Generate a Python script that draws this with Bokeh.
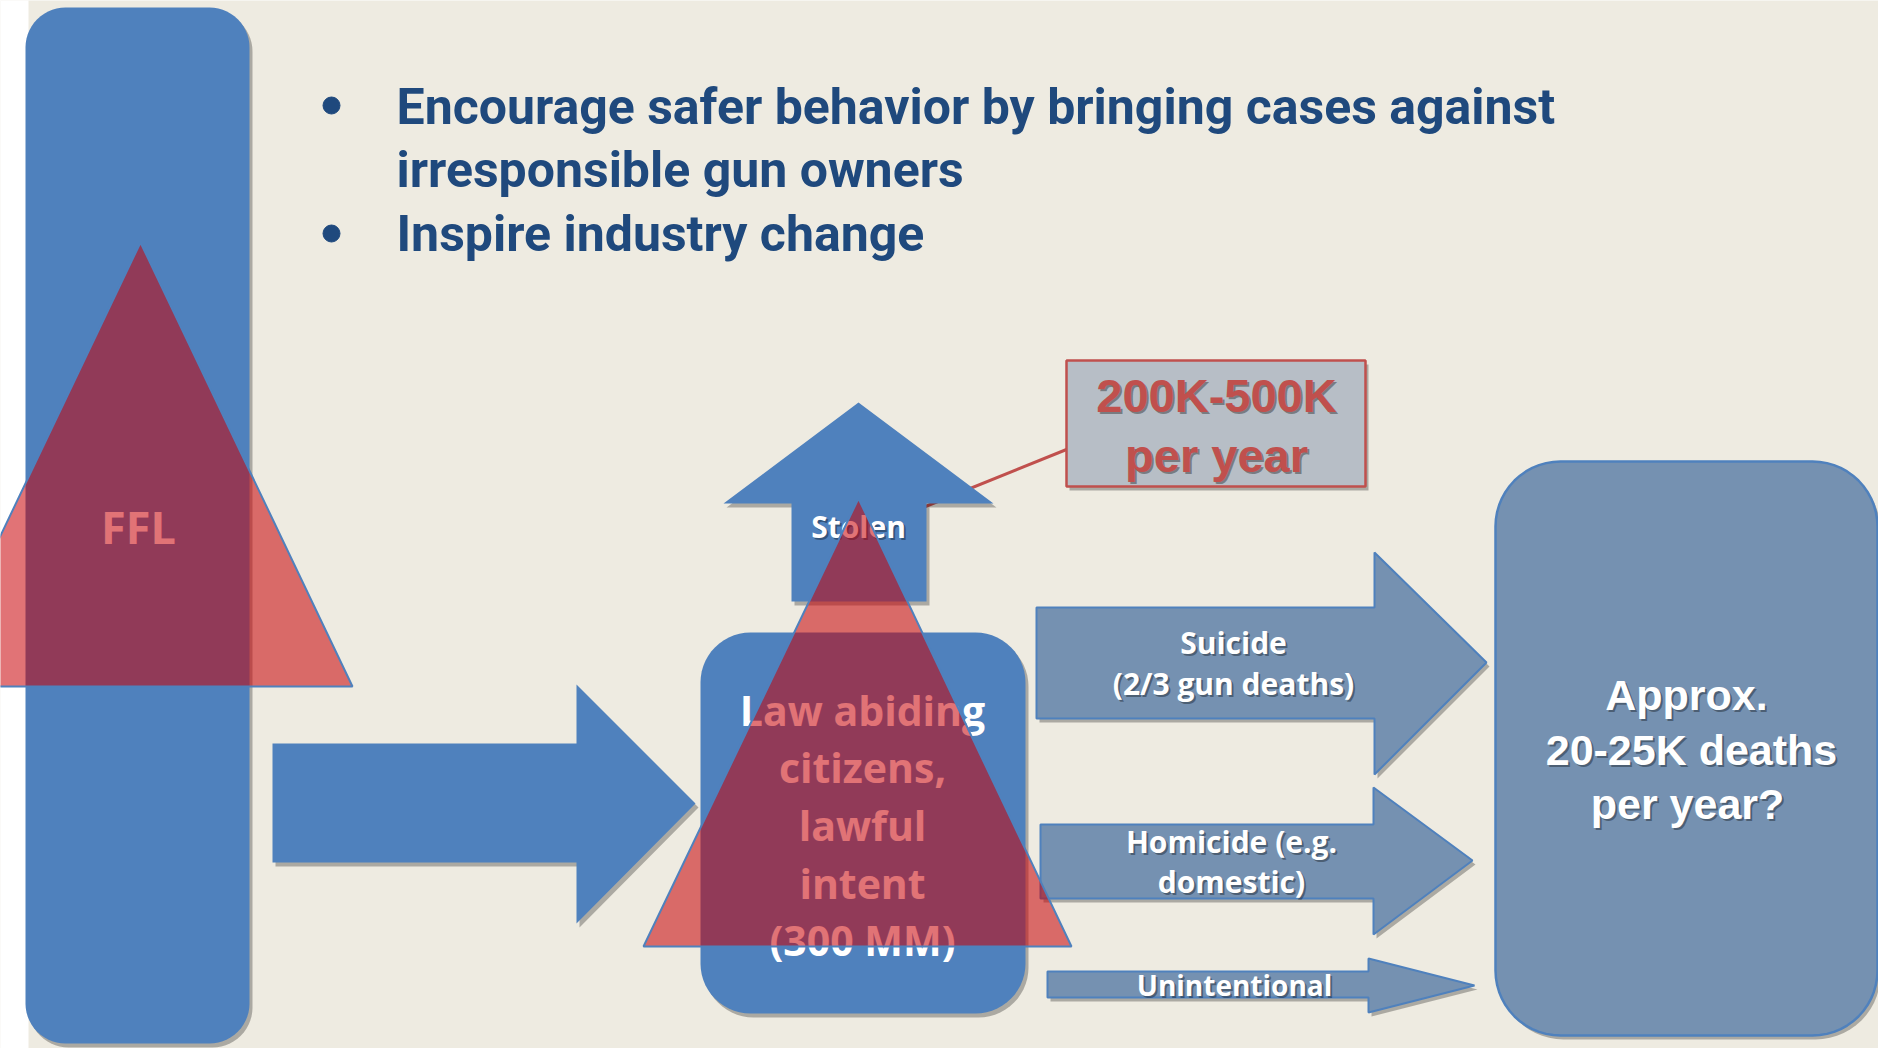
import math
from bokeh.plotting import figure
from bokeh.models import Range1d
from bokeh.core.properties import value
from bokeh.embed import file_html
from bokeh.resources import INLINE

# ---------------- content (texts) ----------------
bullet_lines = ["Encourage safer behavior by bringing cases against",
                "irresponsible gun owners",
                "Inspire industry change"]
ffl_label = ["FFL"]
stolen_label = ["Stolen"]
citizen_lines = ["Law abiding", "citizens,", "lawful", "intent", "(300 MM)"]
stolen_count_lines = ["200K-500K", "per year"]
suicide_lines = ["Suicide", "(2/3 gun deaths)"]
homicide_lines = ["Homicide (e.g.", "domestic)"]
unintentional_lines = ["Unintentional"]
deaths_lines = ["Approx.", "20-25K deaths", "per year?"]

# ---------------- colours ----------------
BG = "#EEEBE1"
BLUE = "#4F81BD"
GREYBLUE = "#7591B1"
BOXFILL = "#B7BEC6"
RED = "#C0504D"
NAVY = "#1F497D"
TRI_FILL = "#C80005"

# ---------------- layout (page pixel coordinates, y downwards) ----------------
W, H = 1878, 1048
p = figure(width=W, height=H, x_range=Range1d(0, W), y_range=Range1d(H, 0),
           output_backend="svg", toolbar_location=None, min_border=0,
           x_axis_type=None, y_axis_type=None)
p.xgrid.visible = False
p.ygrid.visible = False
p.outline_line_color = None
p.background_fill_color = BG
p.border_fill_color = BG


def rounded_rect(x0, y0, x1, y1, r, n=14):
    xs, ys = [], []
    corners = [(x1 - r, y0 + r, -90, 0), (x1 - r, y1 - r, 0, 90),
               (x0 + r, y1 - r, 90, 180), (x0 + r, y0 + r, 180, 270)]
    for cx, cy, a0, a1 in corners:
        for i in range(n + 1):
            a = math.radians(a0 + (a1 - a0) * i / n)
            xs.append(cx + r * math.cos(a))
            ys.append(cy + r * math.sin(a))
    return xs, ys


def arrow_right(x0, yt, yb, hx, hyt, hyb, tx, ty):
    xs = [x0, hx, hx, tx, hx, hx, x0]
    ys = [yt, yt, hyt, ty, hyb, yb, yb]
    return xs, ys


def arrow_up(tx, ty, hy, hxl, hxr, sxl, sxr, sy):
    xs = [tx, hxr, sxr, sxr, sxl, sxl, hxl]
    ys = [ty, hy, hy, sy, sy, hy, hy]
    return xs, ys


def shape(xs, ys, fill, line=None, lw=2, shadow=True, alpha=1.0):
    if shadow:
        p.patch([x + 3 for x in xs], [y + 4 for y in ys], fill_color="black",
                fill_alpha=0.28, line_color=None)
    p.patch(xs, ys, fill_color=fill, fill_alpha=alpha,
            line_color=line, line_width=lw)


def label(xs, ys, texts, font, size, color, style="bold", align="center",
          shadow=False):
    if shadow:
        p.text([x + 2 for x in xs], [y + 2 for y in ys], text=texts,
               text_font=value(font), text_font_size=size, text_color="black",
               text_alpha=0.35, text_font_style=style, text_align=align,
               text_baseline="alphabetic")
    p.text(xs, ys, text=texts, text_font=value(font), text_font_size=size,
           text_color=color, text_font_style=style, text_align=align,
           text_baseline="alphabetic")


# white strip at the slide's left edge
p.quad(left=[-10], right=[28], top=[-10], bottom=[1100], fill_color="white", line_color=None)

# bullets
p.scatter([331, 331], [105, 233], size=17, color=NAVY, marker="circle")
label([396] * 3, [106, 169, 233], bullet_lines, "Roboto", "50px",
      NAVY, style="bold", align="left")

# left tall box (FFL)
xs, ys = rounded_rect(25, 7, 249, 1043, 40)
shape(xs, ys, BLUE)

# big right arrow
xs, ys = arrow_right(272, 743, 862, 576, 684, 923, 695, 803)
shape(xs, ys, BLUE)

# connector line to the red box (behind the stolen arrow)
p.line([925, 1066], [506, 449], line_color=RED, line_width=3)

# middle box (citizens)
xs, ys = rounded_rect(700, 632, 1025, 1013, 50)
shape(xs, ys, BLUE)

# stolen arrow
xs, ys = arrow_up(858, 402, 503, 723, 993, 791, 926, 601)
shape(xs, ys, BLUE)

# red box
xs = [1066, 1365, 1365, 1066]
ys = [360, 360, 486, 486]
shape(xs, ys, BOXFILL, line=RED, lw=2.5)
label([1216, 1216], [395, 455], stolen_count_lines, "Liberation Sans", "47px", RED,
      shadow=True)

# outcome arrows
xs, ys = arrow_right(1036, 607, 718, 1374, 552, 774, 1486, 662)
shape(xs, ys, GREYBLUE, line=BLUE, lw=2)
xs, ys = arrow_right(1040, 824, 898, 1373, 787, 934, 1472, 860)
shape(xs, ys, GREYBLUE, line=BLUE, lw=2)
xs, ys = arrow_right(1047, 971, 997, 1368, 958, 1012, 1474, 985)
shape(xs, ys, GREYBLUE, line=BLUE, lw=2)

# deaths box
xs, ys = rounded_rect(1495, 461, 1877, 1035, 65)
shape(xs, ys, GREYBLUE, line=BLUE, lw=2.5)

# white labels
label([138], [526], ffl_label, "Open Sans", "45px", "white")
label([858], [526], stolen_label, "Open Sans", "30px", "white", shadow=True)
label([862] * 5, [709, 766, 824, 882, 939], citizen_lines, "Open Sans", "41px",
      "white", style="bold")
label([1233, 1233], [642, 683], suicide_lines, "Open Sans", "30px", "white", shadow=True)
label([1231, 1231], [841, 881], homicide_lines, "Open Sans", "30px", "white", shadow=True)
label([1234], [984], unintentional_lines, "Open Sans", "28px", "white", shadow=True)
label([1686, 1691, 1687], [694, 749, 803], deaths_lines, "Liberation Sans", "43px",
      "white", shadow=True)

# translucent red triangles on top
p.patch([140, 352, -72], [242, 686, 686], fill_color=TRI_FILL, fill_alpha=0.55,
        line_color=BLUE, line_width=2)
p.patch([858, 1071, 643], [498, 946, 946], fill_color=TRI_FILL, fill_alpha=0.55,
        line_color=BLUE, line_width=2)

open("out.html", "w").write(file_html(p, INLINE))
